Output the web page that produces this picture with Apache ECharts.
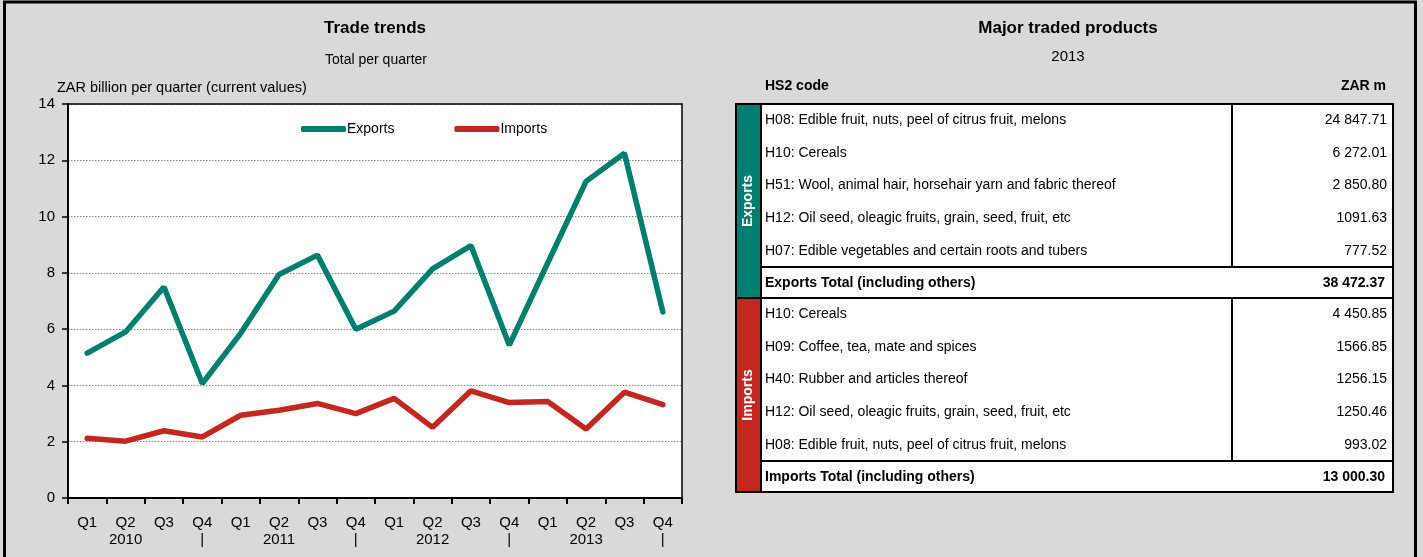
<!DOCTYPE html>
<html>
<head>
<meta charset="utf-8">
<script src="https://cdn.jsdelivr.net/npm/echarts@6/dist/echarts.min.js"></script>
<style>
  html, body { margin: 0; padding: 0; background: #d9d9d9; }
  #main { width: 1423px; height: 557px; }
</style>
</head>
<body>
<div id="main"></div>
<script>
// Quarterly trade totals, ZAR billion (current values)
const quarters = ['Q1','Q2','Q3','Q4','Q1','Q2','Q3','Q4','Q1','Q2','Q3','Q4','Q1','Q2','Q3','Q4'];
const yearMarks = ['','2010','','|','','2011','','|','','2012','','|','','2013','','|'];
const exportsSeries = [5.15, 5.9, 7.5, 4.07, 5.85, 7.94, 8.63, 6.0, 6.64, 8.14, 8.97, 5.43, 8.35, 11.25, 12.25, 6.61];
const importsSeries = [2.12, 2.02, 2.39, 2.17, 2.94, 3.12, 3.36, 3.0, 3.54, 2.51, 3.81, 3.39, 3.43, 2.45, 3.76, 3.32];
const yTicks = { min: 0, max: 14, interval: 2 };

// Major traded products, 2013 (ZAR m)
const exportProducts = [
  'H08: Edible fruit, nuts, peel of citrus fruit, melons',
  'H10: Cereals',
  'H51: Wool, animal hair, horsehair yarn and fabric thereof',
  'H12: Oil seed, oleagic fruits, grain, seed, fruit, etc',
  'H07: Edible vegetables and certain roots and tubers'
];
const exportValues = ['24 847.71', '6 272.01', '2 850.80', '1091.63', '777.52'];
const exportTotal = '38 472.37';
const importProducts = [
  'H10: Cereals',
  'H09: Coffee, tea, mate and spices',
  'H40: Rubber and articles thereof',
  'H12: Oil seed, oleagic fruits, grain, seed, fruit, etc',
  'H08: Edible fruit, nuts, peel of citrus fruit, melons'
];
const importValues = ['4 450.85', '1566.85', '1256.15', '1250.46', '993.02'];
const importTotal = '13 000.30';

const TEAL = '#007f70';
const RED = '#c4271f';
const FONT = '"Liberation Sans Narrow", "Arial Narrow", "Liberation Sans", Arial, sans-serif';
const FONT_WIDE = '"Liberation Sans", Arial, sans-serif';

const categories = quarters.map((q, i) => q + '\n' + yearMarks[i]);

// ---- product table, built as graphic elements ----
const tbl = { bandX: 736, bandW: 25, right: 1393, mid: 1232, top: 104, rowH: 32.6, totalH: 31 };
const graphics = [];

// outer frame
graphics.push({
  type: 'rect', shape: { x: 4.5, y: 2, width: 1411, height: 580 },
  style: { fill: 'none', stroke: '#000', lineWidth: 3 }, z: 100
});

// column headers
graphics.push({ type: 'text', x: 765, y: 86, style: { text: 'HS2 code', font: 'bold 14px ' + FONT, fill: '#000', textAlign: 'left', textVerticalAlign: 'middle' } });
graphics.push({ type: 'text', x: 1386, y: 86, style: { text: 'ZAR m', font: 'bold 14px ' + FONT, fill: '#000', textAlign: 'right', textVerticalAlign: 'middle' } });

function addSection(top, name, color, products, values, totalLabel, totalValue) {
  const bodyH = tbl.rowH * products.length;
  const secH = bodyH + tbl.totalH;
  const tableW = tbl.right - (tbl.bandX + tbl.bandW);
  // coloured side band
  graphics.push({ type: 'rect', shape: { x: tbl.bandX, y: top, width: tbl.bandW, height: secH },
    style: { fill: color, stroke: '#000', lineWidth: 2 } });
  graphics.push({ type: 'text', x: tbl.bandX + tbl.bandW / 2, y: top + secH / 2, rotation: Math.PI / 2,
    style: { text: name, font: 'bold 14px ' + FONT_WIDE, fill: '#fff', textAlign: 'center', textVerticalAlign: 'middle' } });
  // product rows box
  graphics.push({ type: 'rect', shape: { x: tbl.bandX + tbl.bandW, y: top, width: tableW, height: bodyH },
    style: { fill: '#fff', stroke: '#000', lineWidth: 2 } });
  graphics.push({ type: 'line', shape: { x1: tbl.mid, y1: top, x2: tbl.mid, y2: top + bodyH },
    style: { stroke: '#000', lineWidth: 2 } });
  products.forEach((p, i) => {
    const cy = top + tbl.rowH * (i + 0.5);
    graphics.push({ type: 'text', x: 765, y: cy, style: { text: p, font: '14px ' + FONT, fill: '#000', textAlign: 'left', textVerticalAlign: 'middle' } });
    graphics.push({ type: 'text', x: 1387, y: cy, style: { text: values[i], font: '14px ' + FONT, fill: '#000', textAlign: 'right', textVerticalAlign: 'middle' } });
  });
  // total row
  graphics.push({ type: 'rect', shape: { x: tbl.bandX + tbl.bandW, y: top + bodyH, width: tableW, height: tbl.totalH },
    style: { fill: '#fff', stroke: '#000', lineWidth: 2 } });
  const ty = top + bodyH + tbl.totalH / 2 + 1;
  graphics.push({ type: 'text', x: 765, y: ty, style: { text: totalLabel, font: 'bold 14px ' + FONT_WIDE, fill: '#000', textAlign: 'left', textVerticalAlign: 'middle' } });
  graphics.push({ type: 'text', x: 1385, y: ty, style: { text: totalValue, font: 'bold 14px ' + FONT_WIDE, fill: '#000', textAlign: 'right', textVerticalAlign: 'middle' } });
  return top + secH;
}
const nextTop = addSection(tbl.top, 'Exports', TEAL, exportProducts, exportValues, 'Exports Total (including others)', exportTotal);
addSection(nextTop, 'Imports', RED, importProducts, importValues, 'Imports Total (including others)', importTotal);

const chart = echarts.init(document.getElementById('main'), null, { renderer: 'canvas' });
chart.setOption({
  backgroundColor: '#d9d9d9',
  animation: false,
  textStyle: { fontFamily: FONT },
  title: [
    { text: 'Trade trends', left: 370, top: 15, textAlign: 'center',
      textStyle: { fontFamily: FONT, fontWeight: 'bold', fontSize: 17, color: '#000' } },
    { text: 'Total per quarter', left: 371, top: 48, textAlign: 'center',
      textStyle: { fontFamily: FONT, fontWeight: 'normal', fontSize: 14, color: '#000' } },
    { text: 'ZAR billion per quarter (current values)', left: 52, top: 75,
      textStyle: { fontFamily: FONT, fontWeight: 'normal', fontSize: 14.5, color: '#000' } },
    { text: 'Major traded products', left: 1063, top: 15, textAlign: 'center',
      textStyle: { fontFamily: FONT, fontWeight: 'bold', fontSize: 17, color: '#000' } },
    { text: '2013', left: 1063, top: 44, textAlign: 'center',
      textStyle: { fontFamily: FONT, fontWeight: 'normal', fontSize: 15, color: '#000' } }
  ],
  legend: {
    left: 296, top: 117, itemWidth: 45, itemHeight: 6, itemGap: 60,
    icon: 'roundRect',
    textStyle: { fontFamily: FONT, fontSize: 14, color: '#000', padding: [0, 0, 0, -4] },
    data: ['Exports', 'Imports']
  },
  grid: { left: 68, top: 104, width: 614, height: 394, show: true, backgroundColor: '#fff', borderWidth: 0 },
  xAxis: [
    {
      type: 'category', data: categories, boundaryGap: true, position: 'bottom',
      axisLine: { lineStyle: { color: '#000', width: 2 } },
      axisTick: { show: true, length: 6, lineStyle: { color: '#000', width: 2 } },
      axisLabel: { interval: 0, fontFamily: FONT, fontSize: 15, color: '#000', lineHeight: 17, margin: 16 }
    },
    {
      type: 'category', data: categories, position: 'top',
      axisLine: { onZero: false, lineStyle: { color: '#000', width: 1.5 } },
      axisTick: { show: false }, axisLabel: { show: false }
    }
  ],
  yAxis: [
    {
      type: 'value', min: yTicks.min, max: yTicks.max, interval: yTicks.interval,
      axisLine: { show: true, lineStyle: { color: '#000', width: 2 } },
      axisTick: { show: true, length: 6, lineStyle: { color: '#000', width: 1.5 } },
      axisLabel: { fontFamily: FONT, fontSize: 15, color: '#000', margin: 13 },
      splitLine: { show: true, lineStyle: { color: '#888', type: [1.5, 1.5], width: 1 } }
    },
    {
      type: 'value', min: yTicks.min, max: yTicks.max, interval: yTicks.interval, position: 'right',
      axisLine: { show: true, onZero: false, lineStyle: { color: '#000', width: 1.5 } },
      axisTick: { show: false }, axisLabel: { show: false }, splitLine: { show: false }
    }
  ],
  series: [
    { name: 'Exports', type: 'line', data: exportsSeries, showSymbol: false, color: TEAL,
      lineStyle: { width: 5.5, color: TEAL, cap: 'round' } },
    { name: 'Imports', type: 'line', data: importsSeries, showSymbol: false, color: RED,
      lineStyle: { width: 5.5, color: RED, cap: 'round' } }
  ],
  graphic: graphics
});
</script>
</body>
</html>
